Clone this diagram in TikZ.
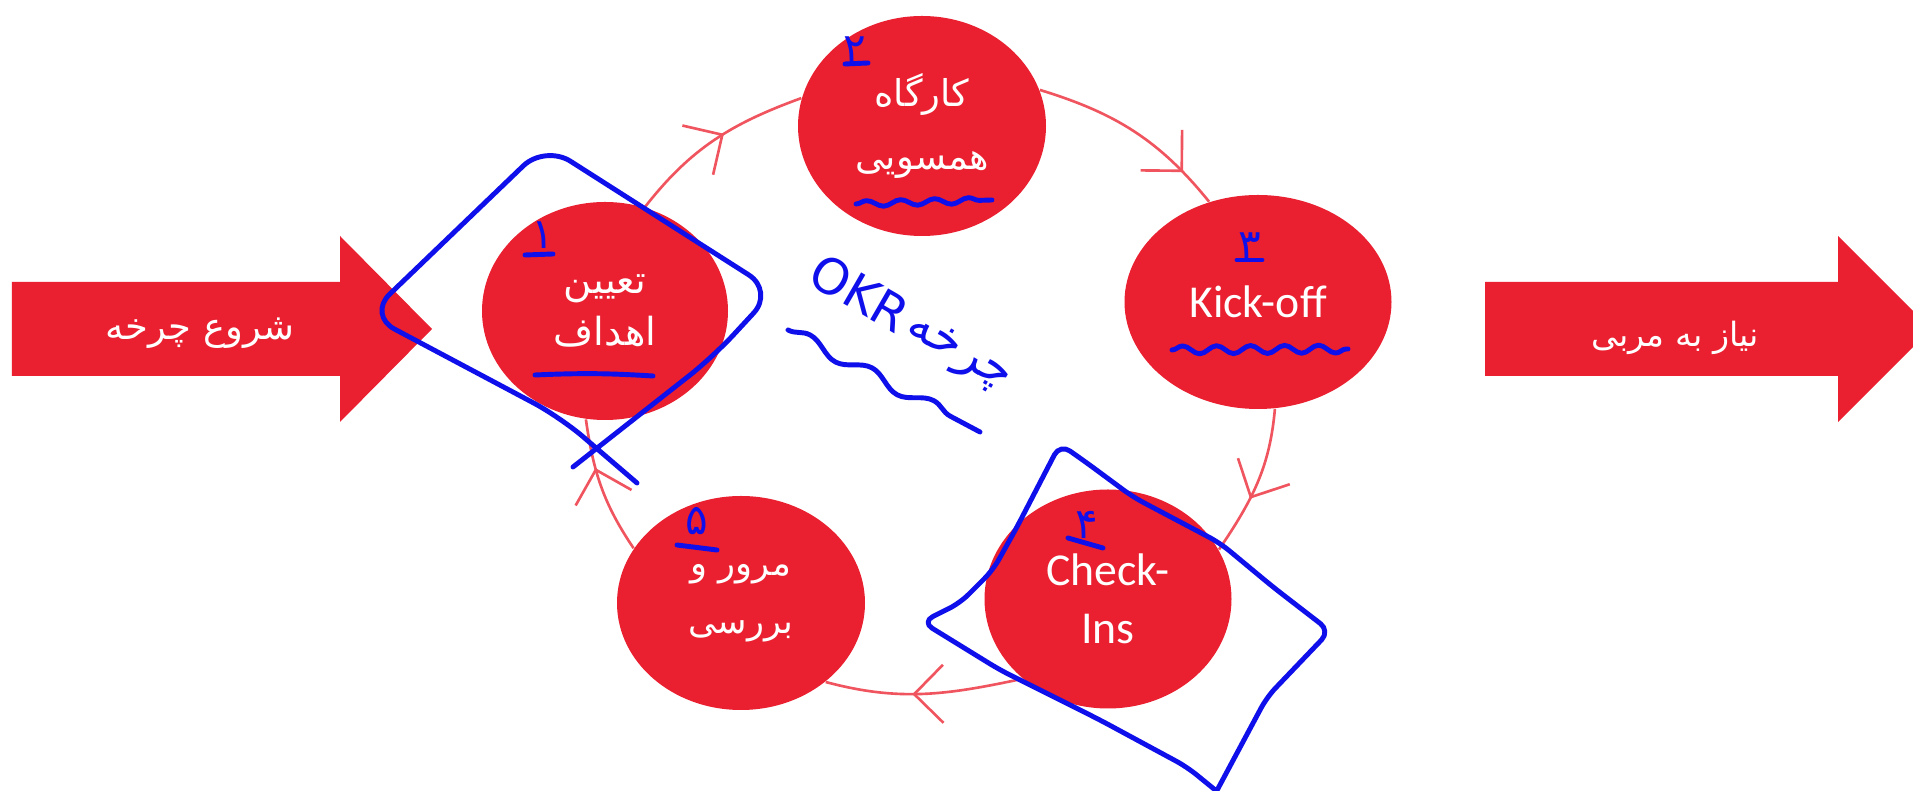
\documentclass[tikz,border=0pt]{standalone}
\usepackage{fontspec}
\usetikzlibrary{shapes.geometric,decorations.markings,decorations.pathmorphing}
\newfontfamily\fa[Script=Arabic]{DejaVu Sans}
\newfontfamily\lat{Carlito}
\TeXXeTstate=1
\definecolor{nodered}{RGB}{234,31,48}
\definecolor{cycc}{RGB}{240,85,95}
\definecolor{ink}{RGB}{15,15,235}
\pgfdeclarelayer{bg}
\pgfsetlayers{bg,main}
\tikzset{
  stage/.style={ellipse, fill=nodered, inner sep=0pt, text=white, align=center},
  cyc/.style={draw=cycc, line width=0.75pt, postaction={decorate, decoration={markings,
      mark=at position #1 with {\draw[cycc, line width=0.75pt] (-0.29,0.29) -- (0,0) -- (-0.29,-0.29);}}}},
  bigarrow/.style={fill=nodered},
  arrowtext/.style={text=white, font=\fa\fontsize{10.5}{13}\selectfont, inner sep=0pt},
  inkline/.style={draw=ink, line width=1.4pt, line cap=round, line join=round},
  inkwave/.style={inkline, decorate, decoration={snake, amplitude=#1, segment length=0.34cm}},
  digit/.style={text=ink, font=\fa\fontsize{12}{12}\selectfont, inner sep=0.5pt},
  inktext/.style={text=ink, rotate=-30, font=\fa\fontsize{14}{14}\selectfont, inner sep=0pt},
}
\begin{document}
\begin{tikzpicture}[x=1cm,y=1cm]
\clip (0,0) rectangle (19.13,7.91);

% stages
\node[stage, minimum width=2.46cm, minimum height=2.18cm, font=\fa\fontsize{11}{15}\selectfont] (n1) at (6.05,4.80) {\beginR تعیین\endR\\\beginR اهداف\endR};
\node[stage, minimum width=2.48cm, minimum height=2.20cm, font=\fa\fontsize{10.5}{18}\selectfont] (n2) at (9.22,6.65) {\beginR کارگاه\endR\\\beginR همسویی\endR};
\node[stage, minimum width=2.67cm, minimum height=2.14cm, font=\lat\fontsize{13}{16}\selectfont] (n3) at (12.58,4.89) {Kick-off};
\node[stage, minimum width=2.47cm, minimum height=2.19cm, font=\lat\fontsize{13}{16.5}\selectfont] (n4) at (11.08,1.92) {Check-\\Ins};
\node[stage, minimum width=2.48cm, minimum height=2.14cm, font=\fa\fontsize{10}{16.5}\selectfont] (n5) at (7.41,1.88) {\beginR مرور و\endR\\\beginR بررسی\endR};

% cycle connectors
\begin{pgfonlayer}{bg}
\fill[white] (0,0) rectangle (19.13,7.91);
\draw[cyc=0.55] (n1.69) to[out=52,in=200] (n2.167);
\draw[cyc=0.8] (n2.17) to[out=-17,in=129] (n3.116);
\draw[cyc=0.6] (n3.-81) to[out=265,in=56] (n4.24);
\draw[cyc=0.55] (n4.223) to[out=192,in=345] (n5.-43);
\draw[cyc=0.63] (n5.153) to[out=124,in=278] (n1.260);
\end{pgfonlayer}

% big arrows
\fill[bigarrow] (0.12,4.15) -- (3.40,4.15) -- (3.40,3.69) -- (4.32,4.62) -- (3.40,5.55) -- (3.40,5.09) -- (0.12,5.09) -- cycle;
\node[arrowtext] (start) at (2.00,4.58) {\beginR شروع چرخه\endR};
\fill[bigarrow] (14.85,4.15) -- (18.38,4.15) -- (18.38,3.69) -- (19.31,4.62) -- (18.38,5.55) -- (18.38,5.09) -- (14.85,5.09) -- cycle;
\node[arrowtext, font=\fa\fontsize{9.5}{12}\selectfont] (coach) at (16.75,4.53) {\beginR نیاز به مربی\endR};

% handwritten annotations
\draw[inkline, rounded corners=0.3cm] (5.73,3.24) -- (7.13,4.34) -- (7.74,5.00) -- (5.45,6.46) -- (3.68,4.76) -- (5.60,3.74) -- (6.37,3.08);
\draw[inkline, rounded corners=0.12cm] (12.14,-0.05) -- (12.67,0.94) -- (13.30,1.60) -- (12.73,2.04) -- (12.20,2.48) -- (11.33,2.94) -- (10.87,3.28) -- (10.60,3.47) -- (10.17,2.64) -- (9.93,2.21) -- (9.60,1.88) -- (9.22,1.69) -- (10.00,1.21) -- (11.00,0.71) -- (11.87,0.24) -- (12.14,0.02);

\node[digit] (d1) at (5.43,5.56) {\beginR ۱\endR};
\node[digit] (d2) at (8.55,7.41) {\beginR ۲\endR};
\node[digit] (d3) at (12.50,5.45) {\beginR ۳\endR};
\node[digit] (d4) at (10.87,2.66) {\beginR ۴\endR};
\node[digit] (d5) at (6.97,2.70) {\beginR ۵\endR};
\coordinate (u1a) at (5.25,5.36); \coordinate (u1b) at (5.53,5.37);
\coordinate (u2a) at (8.45,7.27); \coordinate (u2b) at (8.68,7.28);
\coordinate (u3a) at (12.37,5.31); \coordinate (u3b) at (12.62,5.31);
\coordinate (u4a) at (10.68,2.53); \coordinate (u4b) at (11.03,2.43);
\coordinate (u5a) at (6.77,2.46); \coordinate (u5b) at (7.17,2.41);
\draw[inkline] (u1a) -- (u1b);
\draw[inkline] (u2a) -- (u2b);
\draw[inkline] (u3a) -- (u3b);
\draw[inkline] (u4a) -- (u4b);
\draw[inkline] (u5a) -- (u5b);

\coordinate (w1a) at (5.35,4.16); \coordinate (w1b) at (6.53,4.15);
\draw[inkline] (w1a) to[bend left=3] (w1b);
\coordinate (w2a) at (8.56,5.87); \coordinate (w2b) at (9.92,5.91);
\draw[inkwave=0.03cm] (w2a) -- (w2b);
\coordinate (w3a) at (11.72,4.41); \coordinate (w3b) at (13.48,4.42);
\draw[inkwave=0.04cm] (w3a) -- (w3b);

\node[inktext] (okr) at (8.60,4.98) {OKR};
\node[inktext] (cyclew) at (9.58,4.36) {\beginR چرخه\endR};
\coordinate (w4a) at (7.88,4.61); \coordinate (w4b) at (9.80,3.59);
\draw[inkline, decorate, decoration={snake, amplitude=0.06cm, segment length=0.7cm}] (w4a) -- (w4b);
\end{tikzpicture}
\end{document}
